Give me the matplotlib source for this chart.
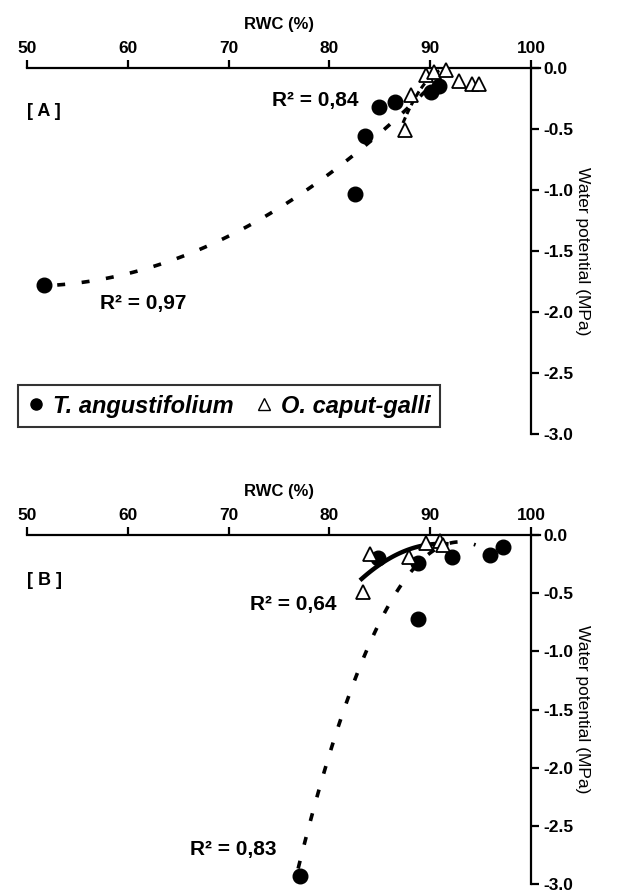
import numpy as np
import matplotlib

matplotlib.use("Agg")
import matplotlib.pyplot as plt
from matplotlib.lines import Line2D


# panel A: RWC (%) vs water potential (MPa)
A_TANG_RWC = [51.7, 82.5, 83.5, 84.9, 86.5, 90.1, 90.9]
A_TANG_PSI = [-1.78, -1.03, -0.56, -0.32, -0.28, -0.20, -0.15]
A_OCAP_RWC = [87.5, 88.1, 89.6, 90.4, 91.6, 92.9, 94.1, 94.8]
A_OCAP_PSI = [-0.51, -0.22, -0.06, -0.03, -0.02, -0.11, -0.13, -0.13]

# panel B
B_TANG_RWC = [77.1, 84.8, 88.8, 88.8, 92.2, 95.9, 97.2]
B_TANG_PSI = [-2.93, -0.20, -0.24, -0.72, -0.19, -0.17, -0.10]
B_OCAP_RWC = [83.3, 84.0, 87.9, 89.6, 91.0, 91.3]
B_OCAP_PSI = [-0.49, -0.16, -0.19, -0.07, -0.05, -0.09]

R2_LABELS_A = ["R² = 0,97", "R² = 0,84"]
R2_LABELS_B = ["R² = 0,83", "R² = 0,64"]

X_TICKS = [50, 60, 70, 80, 90, 100]
Y_TICKS = [0.0, -0.5, -1.0, -1.5, -2.0, -2.5, -3.0]

FONT = ["Liberation Sans", "DejaVu Sans"]


def fit_curve(ax, xs, ys, lo, hi, **kw):
    coef = np.polyfit(xs, ys, 2)
    grid = np.linspace(lo, hi, 120)
    ax.plot(grid, np.polyval(coef, grid), color="black", clip_on=False, **kw)


def style_axis(ax):
    ax.set_xlim(50, 100)
    ax.set_ylim(-3.0, 0.0)
    ax.xaxis.tick_top()
    ax.xaxis.set_label_position("top")
    ax.yaxis.tick_right()
    ax.yaxis.set_label_position("right")
    for side in ["left", "bottom"]:
        ax.spines[side].set_visible(False)
    ax.spines["top"].set_linewidth(1.6)
    ax.spines["right"].set_linewidth(1.6)
    ax.spines["top"].set_bounds(50, 100.9)
    ax.set_xticks(X_TICKS)
    ax.set_xticklabels([str(t) for t in X_TICKS])
    ax.set_yticks(Y_TICKS)
    ax.set_yticklabels([f"{t:.1f}" for t in Y_TICKS])
    ax.tick_params(axis="both", direction="out", length=6, width=1.6,
                   labelsize=12.5, pad=3)
    for lab in ax.get_xticklabels() + ax.get_yticklabels():
        lab.set_fontweight("bold")
    ax.set_xlabel("RWC (%)", fontsize=12, fontweight="bold", labelpad=8)
    ax.set_ylabel("Water potential (MPa)", fontsize=12.5, rotation=-90,
                  labelpad=12)


def scatter_pair(ax, tx, ty, ox, oy):
    ax.plot(tx, ty, "o", color="black", markersize=10.5, clip_on=False,
            zorder=4)
    ax.plot(ox, oy, "^", markerfacecolor="white", markeredgecolor="black",
            markeredgewidth=1.3, markersize=10, clip_on=False, zorder=5)


def main():
    plt.rcParams["font.family"] = FONT
    fig = plt.figure(figsize=(6.22, 8.96), dpi=100)
    ax_a = fig.add_axes([27 / 622, 1 - 434 / 896, 504 / 622, 366 / 896])
    ax_b = fig.add_axes([27 / 622, 1 - 884 / 896, 504 / 622, 349 / 896])

    dash_kw = dict(linewidth=2.6, dashes=(2.2, 4.6))

    # panel A
    style_axis(ax_a)
    fit_curve(ax_a, A_TANG_RWC, A_TANG_PSI, 53.0, 90.0, **dash_kw)
    fit_curve(ax_a, A_OCAP_RWC, A_OCAP_PSI, 87.3, 92.0,
              linewidth=2.2, dashes=(2.0, 1.2))
    scatter_pair(ax_a, A_TANG_RWC, A_TANG_PSI, A_OCAP_RWC, A_OCAP_PSI)
    ax_a.text(50.0, -0.36, "[ A ]", fontsize=13, fontweight="bold",
              va="center")
    ax_a.text(57.2, -1.93, R2_LABELS_A[0], fontsize=15, fontweight="bold",
              va="center")
    ax_a.text(74.3, -0.27, R2_LABELS_A[1], fontsize=15, fontweight="bold",
              va="center")

    handles = [
        Line2D([], [], marker="o", linestyle="none", color="black",
               markersize=8),
        Line2D([], [], marker="^", linestyle="none", markerfacecolor="white",
               markeredgecolor="black", markeredgewidth=1.0, markersize=8),
    ]
    leg = fig.legend(handles, ["T. angustifolium", "O. caput-galli"],
                     loc="lower left", bbox_to_anchor=(18 / 622, 1 - 427 / 896),
                     borderaxespad=0, ncol=2, frameon=True, fancybox=False,
                     handlelength=0.7, handletextpad=0.4, columnspacing=0.9,
                     borderpad=0.4,
                     prop={"family": FONT, "size": 17, "weight": "bold",
                           "style": "italic"})
    leg.get_frame().set_edgecolor("black")
    leg.get_frame().set_linewidth(1.5)

    # panel B
    style_axis(ax_b)
    fit_curve(ax_b, B_TANG_RWC, B_TANG_PSI, 76.9, 94.5, **dash_kw)
    fit_curve(ax_b, B_OCAP_RWC, B_OCAP_PSI, 83.2, 91.6, linewidth=3.2)
    scatter_pair(ax_b, B_TANG_RWC, B_TANG_PSI, B_OCAP_RWC, B_OCAP_PSI)
    ax_b.text(50.0, -0.39, "[ B ]", fontsize=13, fontweight="bold",
              va="center")
    ax_b.text(66.2, -2.70, R2_LABELS_B[0], fontsize=15, fontweight="bold",
              va="center")
    ax_b.text(72.1, -0.60, R2_LABELS_B[1], fontsize=15, fontweight="bold",
              va="center")

    fig.savefig("out.png", dpi=100)
    plt.close(fig)


if __name__ == "__main__":
    main()
